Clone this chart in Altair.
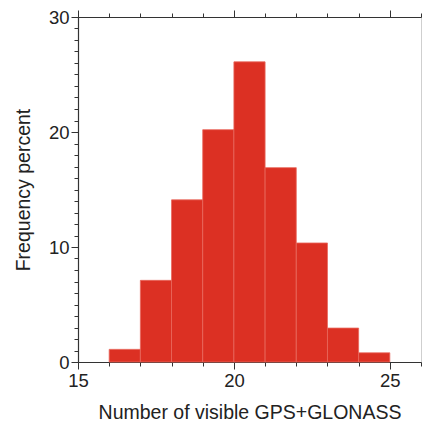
import altair as alt
import pandas as pd

bin_start = [16, 17, 18, 19, 20, 21, 22, 23, 24]
bin_end = [17, 18, 19, 20, 21, 22, 23, 24, 25]
freq = [1.1, 7.1, 14.1, 20.2, 26.1, 16.9, 10.35, 2.95, 0.8]

x_ticks = list(range(15, 27))
y_ticks = list(range(0, 31))

df = pd.DataFrame({"start": bin_start, "end": bin_end, "freq": freq})

FONT = "Liberation Sans"
BAR = "#DC3023"

xscale = alt.Scale(domain=[15, 26], nice=False, zero=False)
yscale = alt.Scale(domain=[0, 30], nice=False)

x_axis = alt.Axis(
    values=x_ticks,
    labelExpr="datum.value % 5 === 0 ? datum.label : ''",
    tickSize={"condition": {"test": "datum.value % 5 === 0", "value": 7}, "value": 4},
    tickColor="#333", domainColor="#333", tickWidth=1, domainWidth=1.2,
    labelFont=FONT, labelFontSize=18.5, labelColor="#222", labelPadding=2,
    labelFlush=False,
    title="Number of visible GPS+GLONASS", titleFont=FONT, titleFontSize=19.5,
    titleFontWeight="normal", titleColor="#222", titlePadding=14,
    grid=False,
)
y_axis = alt.Axis(
    values=y_ticks,
    labelExpr="datum.value % 10 === 0 ? datum.label : ''",
    tickSize={"condition": {"test": "datum.value % 10 === 0", "value": 7}, "value": 4},
    tickColor="#333", domainColor="#333", tickWidth=1, domainWidth=1.2,
    labelFont=FONT, labelFontSize=18.5, labelColor="#222", labelPadding=2,
    labelFlush=False,
    title="Frequency percent", titleFont=FONT, titleFontSize=19.5,
    titleFontWeight="normal", titleColor="#222", titlePadding=15,
    grid=False,
)
top_axis = alt.Axis(
    orient="top", values=x_ticks, labels=False, title=None,
    tickSize={"condition": {"test": "datum.value % 5 === 0", "value": 7}, "value": 4},
    tickColor="#333", domainColor="#333", tickWidth=1, domainWidth=1.2, grid=False,
)

bars = alt.Chart(df).mark_rect(color=BAR, stroke="#E8675C", strokeWidth=0.8).encode(
    x=alt.X("start:Q", scale=xscale, axis=x_axis),
    x2="end:Q",
    y=alt.Y("freq:Q", scale=yscale, axis=y_axis),
    y2=alt.datum(0),
)

top = alt.Chart(df).mark_rect(opacity=0).encode(
    x=alt.X("start:Q", scale=xscale, axis=top_axis),
    x2="end:Q",
    y=alt.Y("freq:Q", scale=yscale, axis=None),
    y2=alt.datum(0),
)

chart = (
    alt.layer(bars, top)
    .resolve_axis(x="independent", y="independent")
    .properties(
        width=343, height=345,
        autosize=alt.AutoSizeParams(type="none"),
        padding={"left": 78, "top": 17, "right": 1, "bottom": 64},
        background="white",
    )
    .configure_view(stroke="#cfcfcf", strokeWidth=1)
)

chart.save("out.html", embed_options={"renderer": "svg", "actions": False})
